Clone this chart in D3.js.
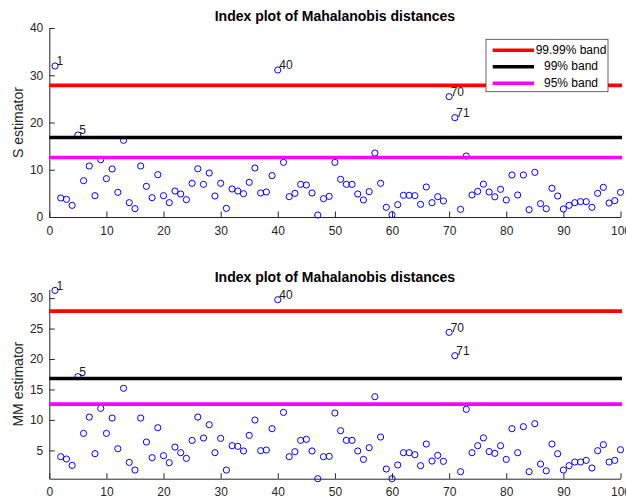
<!DOCTYPE html>
<meta charset="utf-8">

<!-- Load d3.js -->
<script src="https://d3js.org/d3.v7.min.js"></script>

<style>
  body { margin: 0; background: white; }
  text { font-family: "Liberation Sans", Arial, sans-serif; }
</style>

<div id="mahal-chart"></div>

<script>

// observation index 1..100
var obsIndex = d3.range(1, 101);

// squared Mahalanobis distances, S estimator (top panel)
var sDist = [
  31.96, 4.02, 3.74, 2.47, 17.35, 7.69, 10.79, 4.51, 12.13, 8.11,
  10.16, 5.22, 16.23, 3.03, 1.76, 10.79, 6.49, 4.09, 8.96, 4.51,
  3.03, 5.50, 4.87, 3.67, 7.13, 10.20, 6.91, 9.31, 4.44, 7.13,
  1.83, 5.93, 5.50, 4.94, 7.34, 10.37, 5.08, 5.29, 8.75, 31.11,
  11.57, 4.30, 5.01, 6.91, 6.77, 5.08, 0.42, 3.88, 4.37, 11.57,
  7.97, 6.91, 6.91, 4.87, 3.60, 5.36, 13.54, 7.13, 2.05, 0.49,
  2.61, 4.59, 4.59, 4.51, 2.68, 6.35, 3.03, 4.30, 3.39, 25.47,
  21.02, 1.62, 12.91, 4.66, 5.43, 6.95, 5.29, 4.27, 5.86, 3.60,
  8.89, 4.66, 8.89, 1.55, 9.45, 2.82, 1.76, 6.07, 4.44, 1.69,
  2.47, 3.03, 3.25, 3.25, 2.05, 5.01, 6.28, 2.96, 3.46, 5.22
];

// squared Mahalanobis distances, MM estimator (bottom panel)
var mmDist = [
  31.27, 3.96, 3.58, 2.54, 17.10, 7.79, 10.47, 4.46, 11.90, 7.79,
  10.31, 5.27, 15.19, 3.03, 1.77, 10.31, 6.37, 3.80, 8.72, 4.13,
  2.98, 5.54, 4.62, 3.69, 6.64, 10.47, 7.03, 9.21, 4.62, 6.97,
  1.77, 5.77, 5.66, 4.90, 7.47, 9.98, 4.95, 5.06, 8.56, 29.74,
  11.24, 3.96, 4.78, 6.64, 6.81, 4.90, 0.35, 3.96, 4.02, 11.13,
  8.23, 6.65, 6.65, 4.90, 3.52, 5.44, 13.81, 7.19, 1.94, 0.35,
  2.60, 4.62, 4.62, 4.29, 2.49, 6.04, 3.25, 4.18, 3.20, 24.38,
  20.55, 1.50, 11.74, 4.62, 5.77, 7.05, 4.81, 4.51, 5.77, 3.52,
  8.56, 4.62, 8.89, 1.50, 9.38, 2.76, 1.64, 6.04, 4.45, 1.77,
  2.49, 3.09, 3.09, 3.36, 2.10, 4.95, 5.93, 3.09, 3.36, 5.11
];

// units flagged with a text label
var labelledUnits = [1, 5, 40, 70, 71];

// chi2 bands (p = 6)
var bandNames = ["99.99% band", "99% band", "95% band"];
var bandValues = [27.86, 16.81, 12.59];

// axis ticks
var xTicks = [0, 10, 20, 30, 40, 50, 60, 70, 80, 90, 100];
var sTicks = [0, 10, 20, 30, 40];
var mmTicks = [5, 10, 15, 20, 25, 30];
var sDomain = [0, 40];
var mmDomain = [0.35, 31.4];

var bandColor = {"99.99% band": "#ff0000", "99% band": "#000000", "95% band": "#ff00ff"};
var axisColor = "#262626";

var width = 626, height = 499;

var svg = d3.select("#mahal-chart")
  .append("svg")
    .attr("width", width)
    .attr("height", height);

svg.append("rect")
  .attr("width", width)
  .attr("height", height)
  .attr("fill", "white");

var x = d3.scaleLinear()
  .domain([0, 100])
  .range([49.3, 620.5]);

function drawPanel(top, bottom, values, yDomain, yTicks, yLabel, withLegend) {

  var y = d3.scaleLinear()
    .domain(yDomain)
    .range([bottom, top]);

  var g = svg.append("g");

  // title
  g.append("text")
    .attr("x", (x.range()[0] + x.range()[1]) / 2)
    .attr("y", top - 7.5)
    .attr("text-anchor", "middle")
    .style("font-size", "14px")
    .style("font-weight", "bold")
    .style("fill", "#000")
    .text("Index plot of Mahalanobis distances");

  // X axis (ticks pointing inward)
  var xAxis = d3.axisBottom(x)
    .tickValues(xTicks)
    .tickSizeInner(-5.5)
    .tickSizeOuter(0)
    .tickPadding(9);
  var gx = g.append("g")
    .attr("transform", "translate(0," + bottom + ")")
    .call(xAxis);

  // Y axis
  var yAxis = d3.axisLeft(y)
    .tickValues(yTicks)
    .tickSizeInner(-5.5)
    .tickSizeOuter(0)
    .tickPadding(6);
  var gy = g.append("g")
    .attr("transform", "translate(" + x.range()[0] + ",0)")
    .call(yAxis);

  [gx, gy].forEach(function(ax) {
    ax.select(".domain").attr("stroke", axisColor).attr("stroke-width", 1);
    ax.selectAll(".tick line").attr("stroke", axisColor).attr("stroke-width", 1);
    ax.selectAll(".tick text")
      .style("font-size", "12px")
      .style("font-family", '"Liberation Sans", Arial, sans-serif')
      .attr("fill", axisColor);
  });
  gx.selectAll(".tick text").attr("dy", "0.71em");

  // Y label
  g.append("text")
    .attr("transform", "translate(23," + ((top + bottom) / 2) + ") rotate(-90)")
    .attr("text-anchor", "middle")
    .style("font-size", "14px")
    .style("fill", axisColor)
    .text(yLabel);

  // points
  g.selectAll("circle.pt")
    .data(obsIndex)
    .enter()
    .append("circle")
      .attr("class", "pt")
      .attr("cx", function(d) { return x(d); })
      .attr("cy", function(d) { return y(values[d - 1]); })
      .attr("r", 3.1)
      .attr("fill", "none")
      .attr("stroke", "#0000ff")
      .attr("stroke-width", 1);

  // labels for the outlying units
  g.selectAll("text.unit")
    .data(labelledUnits)
    .enter()
    .append("text")
      .attr("class", "unit")
      .attr("x", function(d) { return x(d) + 1.5; })
      .attr("y", function(d) { return y(values[d - 1]) - 4; })
      .attr("dominant-baseline", "middle")
      .style("font-size", "12px")
      .style("fill", "#1a1a1a")
      .text(function(d) { return d; });

  // horizontal bands, drawn over the points
  g.selectAll("line.band")
    .data(bandNames)
    .enter()
    .append("line")
      .attr("class", "band")
      .attr("x1", x(0))
      .attr("x2", x(100) + 1.5)
      .attr("y1", function(d, i) { return y(bandValues[i]); })
      .attr("y2", function(d, i) { return y(bandValues[i]); })
      .attr("stroke", function(d) { return bandColor[d]; })
      .attr("stroke-width", 3.6);

  if (withLegend) {
    var legend = g.append("g");
    legend.append("rect")
      .attr("x", 486)
      .attr("y", 39.3)
      .attr("width", 122)
      .attr("height", 52.4)
      .attr("fill", "white")
      .attr("stroke", "#404040")
      .attr("stroke-width", 0.8);

    legend.selectAll("line.leg")
      .data(bandNames)
      .enter()
      .append("line")
        .attr("class", "leg")
        .attr("x1", 492.7)
        .attr("x2", 534)
        .attr("y1", function(d, i) { return 50.3 + i * 16.5; })
        .attr("y2", function(d, i) { return 50.3 + i * 16.5; })
        .attr("stroke", function(d) { return bandColor[d]; })
        .attr("stroke-width", 3.6);

    legend.selectAll("text.leg")
      .data(bandNames)
      .enter()
      .append("text")
        .attr("class", "leg")
        .attr("x", 571)
        .attr("y", function(d, i) { return 50.8 + i * 16.5; })
        .attr("text-anchor", "middle")
        .attr("dominant-baseline", "middle")
        .style("font-size", "12px")
        .style("fill", "#000")
        .text(function(d) { return d; });
  }
}

drawPanel(28, 217, sDist, sDomain, sTicks, "S estimator", true);
drawPanel(289.6, 478.7, mmDist, mmDomain, mmTicks, "MM estimator", false);

</script>
